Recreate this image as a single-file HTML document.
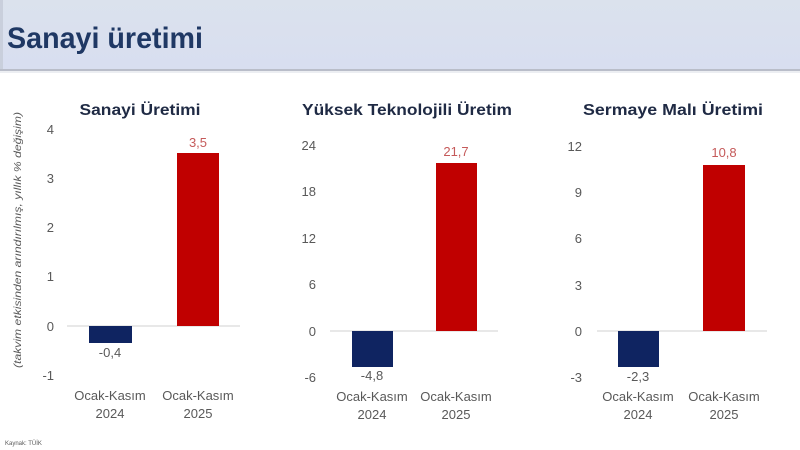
<!DOCTYPE html>
<html><head><meta charset="utf-8"><style>
html,body{margin:0;padding:0;background:#fff;}
svg{display:block;}
text{font-family:"Liberation Sans",sans-serif;}
</style></head><body>
<svg width="800" height="450" viewBox="0 0 800 450" xmlns="http://www.w3.org/2000/svg">
<defs>
<linearGradient id="hg" x1="0" y1="0" x2="0" y2="1">
<stop offset="0" stop-color="#dbe2ed"/><stop offset="1" stop-color="#d8def0"/>
</linearGradient>
</defs>
<rect x="0" y="0" width="800" height="69" fill="url(#hg)"/>
<rect x="0" y="0" width="3" height="69" fill="#c9cfdc"/>
<rect x="0" y="69" width="800" height="2" fill="#b9bdc9"/>
<rect x="0" y="71" width="800" height="2" fill="#eceef2"/>
<text x="7" y="48" font-size="30" font-weight="bold" fill="#1f3864" textLength="196" lengthAdjust="spacingAndGlyphs">Sanayi üretimi</text>

<!-- Y axis title -->
<text transform="translate(21,240) rotate(-90)" text-anchor="middle" font-size="10.5" font-style="italic" fill="#595959" textLength="256" lengthAdjust="spacingAndGlyphs">(takvim etkisinden arındırılmış, yıllık % değişim)</text>

<!-- Chart 1 -->
<text x="140" y="115" text-anchor="middle" font-size="16" font-weight="bold" fill="#1f2a44" textLength="121" lengthAdjust="spacingAndGlyphs">Sanayi Üretimi</text>
<g font-size="13" fill="#595959" text-anchor="end">
<text x="54" y="134">4</text>
<text x="54" y="183">3</text>
<text x="54" y="232">2</text>
<text x="54" y="281">1</text>
<text x="54" y="331">0</text>
<text x="54" y="380">-1</text>
</g>
<line x1="67" y1="326" x2="240" y2="326" stroke="#d9d9d9" stroke-width="1.2"/>
<rect x="89" y="326" width="43" height="17" fill="#0f2461"/>
<rect x="177" y="153" width="42" height="173" fill="#c00000"/>
<text x="198" y="147" text-anchor="middle" font-size="13" fill="#c55a5a">3,5</text>
<text x="110" y="357" text-anchor="middle" font-size="13" fill="#595959">-0,4</text>
<g font-size="13" fill="#595959" text-anchor="middle">
<text x="110" y="400">Ocak-Kasım</text>
<text x="110" y="418">2024</text>
<text x="198" y="400">Ocak-Kasım</text>
<text x="198" y="418">2025</text>
</g>

<!-- Chart 2 -->
<text x="407" y="115" text-anchor="middle" font-size="16" font-weight="bold" fill="#1f2a44" textLength="210" lengthAdjust="spacingAndGlyphs">Yüksek Teknolojili Üretim</text>
<g font-size="13" fill="#595959" text-anchor="end">
<text x="316" y="150">24</text>
<text x="316" y="196">18</text>
<text x="316" y="243">12</text>
<text x="316" y="289">6</text>
<text x="316" y="336">0</text>
<text x="316" y="382">-6</text>
</g>
<line x1="330" y1="331" x2="498" y2="331" stroke="#d9d9d9" stroke-width="1.2"/>
<rect x="352" y="331" width="41" height="36" fill="#0f2461"/>
<rect x="436" y="163" width="41" height="168" fill="#c00000"/>
<text x="456" y="156" text-anchor="middle" font-size="13" fill="#c55a5a">21,7</text>
<text x="372" y="380" text-anchor="middle" font-size="13" fill="#595959">-4,8</text>
<g font-size="13" fill="#595959" text-anchor="middle">
<text x="372" y="401">Ocak-Kasım</text>
<text x="372" y="419">2024</text>
<text x="456" y="401">Ocak-Kasım</text>
<text x="456" y="419">2025</text>
</g>

<!-- Chart 3 -->
<text x="673" y="115" text-anchor="middle" font-size="16" font-weight="bold" fill="#1f2a44" textLength="180" lengthAdjust="spacingAndGlyphs">Sermaye Malı Üretimi</text>
<g font-size="13" fill="#595959" text-anchor="end">
<text x="582" y="151">12</text>
<text x="582" y="197">9</text>
<text x="582" y="243">6</text>
<text x="582" y="290">3</text>
<text x="582" y="336">0</text>
<text x="582" y="382">-3</text>
</g>
<line x1="597" y1="331" x2="767" y2="331" stroke="#d9d9d9" stroke-width="1.2"/>
<rect x="618" y="331" width="41" height="36" fill="#0f2461"/>
<rect x="703" y="165" width="42" height="166" fill="#c00000"/>
<text x="724" y="157" text-anchor="middle" font-size="13" fill="#c55a5a">10,8</text>
<text x="638" y="381" text-anchor="middle" font-size="13" fill="#595959">-2,3</text>
<g font-size="13" fill="#595959" text-anchor="middle">
<text x="638" y="401">Ocak-Kasım</text>
<text x="638" y="419">2024</text>
<text x="724" y="401">Ocak-Kasım</text>
<text x="724" y="419">2025</text>
</g>

<text x="5" y="445" font-size="6" fill="#595959">Kaynak: TÜİK</text>
</svg>
</body></html>
